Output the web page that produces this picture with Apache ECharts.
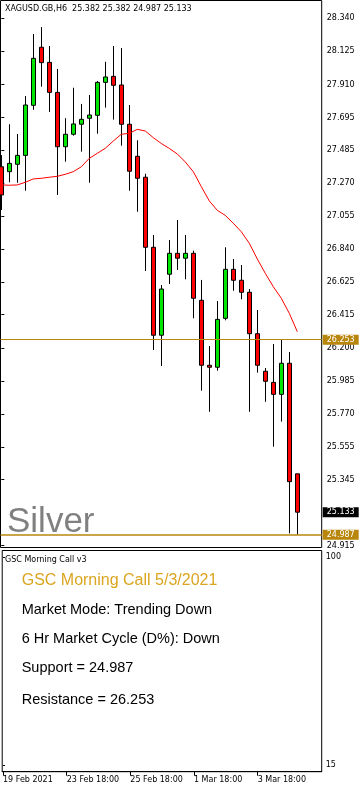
<!DOCTYPE html>
<html><head><meta charset="utf-8">
<script src="https://cdn.jsdelivr.net/npm/echarts@6/dist/echarts.min.js"></script>
<style>html,body{margin:0;padding:0;background:#fff}#c{width:361px;height:790px}</style>
</head><body><div id="c"></div>
<script>
// ---- data ----
const times = ['19 Feb 18:00','22 Feb 00:00','22 Feb 06:00','22 Feb 12:00','22 Feb 18:00',
  '23 Feb 00:00','23 Feb 06:00','23 Feb 12:00','23 Feb 18:00','24 Feb 00:00','24 Feb 06:00','24 Feb 12:00','24 Feb 18:00',
  '25 Feb 00:00','25 Feb 06:00','25 Feb 12:00','25 Feb 18:00','26 Feb 00:00','26 Feb 06:00','26 Feb 12:00','26 Feb 18:00',
  '1 Mar 00:00','1 Mar 06:00','1 Mar 12:00','1 Mar 18:00','2 Mar 00:00','2 Mar 06:00','2 Mar 12:00','2 Mar 18:00',
  '3 Mar 00:00','3 Mar 06:00','3 Mar 12:00','3 Mar 18:00','4 Mar 00:00','4 Mar 06:00','4 Mar 12:00','4 Mar 18:00','5 Mar 00:00'];
const opens  = [27.376,27.344,27.392,27.450,27.775,28.152,28.054,27.859,27.506,27.587,27.652,27.691,27.710,27.924,27.963,27.907,27.652,27.444,27.308,26.853,26.282,26.678,26.814,26.782,26.814,26.509,26.087,26.074,26.392,26.710,26.639,26.561,26.292,26.048,25.976,25.898,26.100,25.382];
const closes = [27.193,27.398,27.450,27.777,28.080,28.052,27.859,27.506,27.587,27.654,27.684,27.712,27.924,27.959,27.905,27.652,27.347,27.301,26.853,26.282,26.582,26.814,26.782,26.814,26.522,26.087,26.074,26.385,26.710,26.639,26.561,26.292,26.087,25.983,25.898,26.100,25.331,25.133];
const lows   = [27.095,27.275,27.272,27.220,27.746,27.896,27.732,27.193,27.409,27.578,27.474,27.272,27.591,27.760,27.682,27.513,27.220,27.084,26.699,26.186,26.082,26.615,26.706,26.645,26.392,25.922,25.785,26.052,26.379,26.571,26.515,25.785,26.039,25.850,25.558,25.721,24.995,24.987];
const highs  = [27.452,27.652,27.589,27.835,28.238,28.283,28.160,28.011,27.691,27.889,27.784,27.842,27.933,28.058,28.160,28.147,27.777,27.548,27.331,26.933,26.608,26.900,27.030,26.933,26.831,26.641,26.212,26.504,26.853,26.777,26.738,26.582,26.446,26.069,26.225,26.253,26.173,25.382];
const maValues = [27.258,27.256,27.258,27.275,27.297,27.301,27.308,27.314,27.327,27.344,27.376,27.431,27.463,27.496,27.543,27.587,27.593,27.619,27.608,27.565,27.527,27.495,27.459,27.407,27.344,27.247,27.154,27.093,27.060,27.009,26.954,26.879,26.777,26.684,26.597,26.522,26.424,26.305];
const priceTicks = [28.340,28.125,27.910,27.695,27.485,27.270,27.055,26.840,26.625,26.415,26.200,25.985,25.770,25.555,25.345,24.915];
const timeTickIndex = [0,8,16,24,32];
const timeTickLabels = ['19 Feb 2021','23 Feb 18:00','25 Feb 18:00','1 Mar 18:00','3 Mar 18:00'];
const indicatorTicks = [100,15];
const resistance = 26.253;
const support = 24.987;
const lastPrice = 25.133;
const headerText = 'XAGUSD.GB,H6  25.382 25.382 24.987 25.133';
const panelLines = ['Market Mode: Trending Down','6 Hr Market Cycle (D%): Down','Support = 24.987','Resistance = 26.253'];

// ---- build ----
const candleData = opens.map((o, i) => [i, o, closes[i], lows[i], highs[i]]);
const maData = maValues.map((v, i) => [i, v]);
const GOLD = '#b8860b';
const small = { fontFamily: 'DejaVu Sans', fontSize: 8, color: '#000' };

const chart = echarts.init(document.getElementById('c'), null, { renderer: 'canvas' });
const xMin = -0.1, xMax = 40.05;
chart.setOption({
  animation: false,
  backgroundColor: '#fff',
  grid: [
    { left: 0.5, top: 0.5, width: 321.2, height: 547, show: true, borderColor: '#000', borderWidth: 1, backgroundColor: 'transparent' },
    { left: 0.5, top: 550.5, width: 321.2, height: 221.2, show: true, borderColor: '#000', borderWidth: 1, backgroundColor: 'transparent' }
  ],
  xAxis: [
    { type: 'value', gridIndex: 0, min: xMin, max: xMax, show: false, splitLine: { show: false } },
    { type: 'value', gridIndex: 1, min: xMin, max: xMax, splitLine: { show: false },
      axisLine: { show: true, lineStyle: { color: '#000', width: 1 } },
      axisTick: { show: true, customValues: timeTickIndex, length: 4, lineStyle: { color: '#000' } },
      axisLabel: Object.assign({ customValues: timeTickIndex, align: 'left', margin: 4,
        formatter: v => timeTickLabels[timeTickIndex.indexOf(Math.round(v))] || '' }, small) }
  ],
  yAxis: [
    { type: 'value', gridIndex: 0, position: 'right', min: 24.9036, max: 28.4556, splitLine: { show: false },
      axisLine: { show: false },
      axisTick: { show: true, customValues: priceTicks, length: 3, lineStyle: { color: '#000' } },
      axisLabel: Object.assign({ customValues: priceTicks, margin: 5, formatter: v => v.toFixed(3) }, small) },
    { type: 'value', gridIndex: 1, position: 'right', min: 12.38, max: 102.78, splitLine: { show: false },
      axisLine: { show: false },
      axisTick: { show: true, customValues: indicatorTicks, length: 2, lineStyle: { color: '#000' } },
      axisLabel: Object.assign({ customValues: indicatorTicks, margin: 4, formatter: v => String(v) }, small) }
  ],
  graphic: [
    { type: 'text', x: 7, y: 522.7, z: 0, style: { text: 'Silver', font: '35px "Liberation Sans"', fill: '#808080', verticalAlign: 'middle' } },
    { type: 'text', x: 5, y: 8.5, z: 10, style: { text: headerText, font: '8px "DejaVu Sans"', fill: '#000', verticalAlign: 'middle' } },
    { type: 'text', x: 5, y: 560, z: 10, style: { text: 'GSC Morning Call v3', font: '8px "DejaVu Sans"', fill: '#000', verticalAlign: 'middle' } },
    { type: 'text', x: 21.7, y: 580.8, z: 10, style: { text: 'GSC Morning Call 5/3/2021', font: '16px "Liberation Sans"', fill: '#daa520', verticalAlign: 'middle' } },
    { type: 'text', x: 21.7, y: 610, z: 10, style: { text: panelLines[0], font: '14.5px "Liberation Sans"', fill: '#000', verticalAlign: 'middle' } },
    { type: 'text', x: 21.7, y: 639.3, z: 10, style: { text: panelLines[1], font: '14.5px "Liberation Sans"', fill: '#000', verticalAlign: 'middle' } },
    { type: 'text', x: 21.7, y: 668.3, z: 10, style: { text: panelLines[2], font: '14.5px "Liberation Sans"', fill: '#000', verticalAlign: 'middle' } },
    { type: 'text', x: 21.7, y: 700, z: 10, style: { text: panelLines[3], font: '14.5px "Liberation Sans"', fill: '#000', verticalAlign: 'middle' } }
  ],
  series: [
    { type: 'candlestick', xAxisIndex: 0, yAxisIndex: 0, data: candleData, barWidth: 4,
      itemStyle: { color: '#00e600', color0: '#ff0000', borderColor: '#000', borderColor0: '#000', borderWidth: 1 },
      markLine: { silent: true, symbol: ['none', 'none'], animation: false, precision: 3,
        label: { show: true, position: 'end', distance: 1, color: '#fff', fontFamily: 'DejaVu Sans', fontSize: 8,
          lineHeight: 10, padding: [0, 4], formatter: p => Number(p.value).toFixed(3) },
        data: [
          { yAxis: resistance, lineStyle: { color: GOLD, width: 1, type: 'solid' }, label: { backgroundColor: GOLD } },
          { yAxis: support, lineStyle: { color: GOLD, width: 1.5, type: 'solid' }, label: { backgroundColor: GOLD } },
          { yAxis: lastPrice, lineStyle: { color: 'rgba(0,0,0,0)', width: 1, type: 'solid' }, label: { backgroundColor: '#000', color: '#fff' } }
        ] } },
    { type: 'line', xAxisIndex: 0, yAxisIndex: 0, data: maData, showSymbol: false, symbol: 'none',
      lineStyle: { color: '#ff0000', width: 1 }, z: 3 }
  ]
});
</script></body></html>
